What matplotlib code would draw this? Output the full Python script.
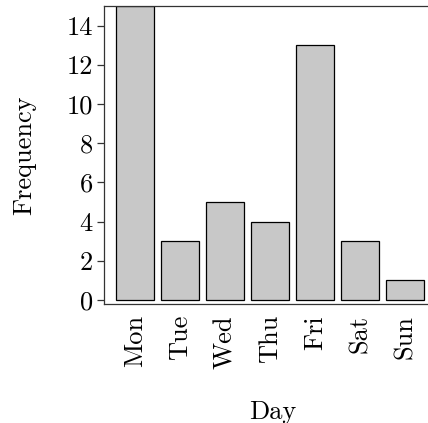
import numpy as np
import matplotlib
matplotlib.use('Agg')
import matplotlib.pyplot as plt

# Computer Modern look (cmr10 ships with matplotlib)
plt.rcParams['font.family'] = 'cmr10'
plt.rcParams['axes.formatter.use_mathtext'] = True
plt.rcParams['mathtext.fontset'] = 'cm'

# ==========================================
# DATA
# ==========================================
days = ['Mon', 'Tue', 'Wed', 'Thu', 'Fri', 'Sat', 'Sun']
counts = [15, 3, 5, 4, 13, 3, 1]
y_ticks = [0, 2, 4, 6, 8, 10, 12, 14]

# ==========================================
# PLOT
# ==========================================
fig = plt.figure(figsize=(4.28, 4.23), dpi=100)
ax = fig.add_axes([104 / 428, 1 - 304 / 423, 338 / 428, 298 / 423])

x = np.arange(len(days))
ax.bar(x, counts, width=0.84, color='#c8c8c8', edgecolor='black', linewidth=0.9)

ax.set_xlim(-0.69, 6.82)
ax.set_ylim(-0.2, 15)
ax.set_xticks(x)
ax.set_xticklabels(days, rotation=90, fontsize=19)
ax.set_yticks(y_ticks)
ax.set_yticklabels([str(t) for t in y_ticks], fontsize=19)

ax.tick_params(axis='x', length=0, pad=8)
ax.tick_params(axis='y', length=5, width=0.9, color='#333333', pad=3)

for side in ['left', 'top', 'bottom']:
    ax.spines[side].set_linewidth(0.9)
    ax.spines[side].set_color('#333333')
ax.spines['right'].set_visible(False)

ax.set_xlabel('Day', fontsize=19, labelpad=23)
ax.set_ylabel('Frequency', fontsize=19, labelpad=22)

plt.savefig('out.png', dpi=100)
plt.close()
